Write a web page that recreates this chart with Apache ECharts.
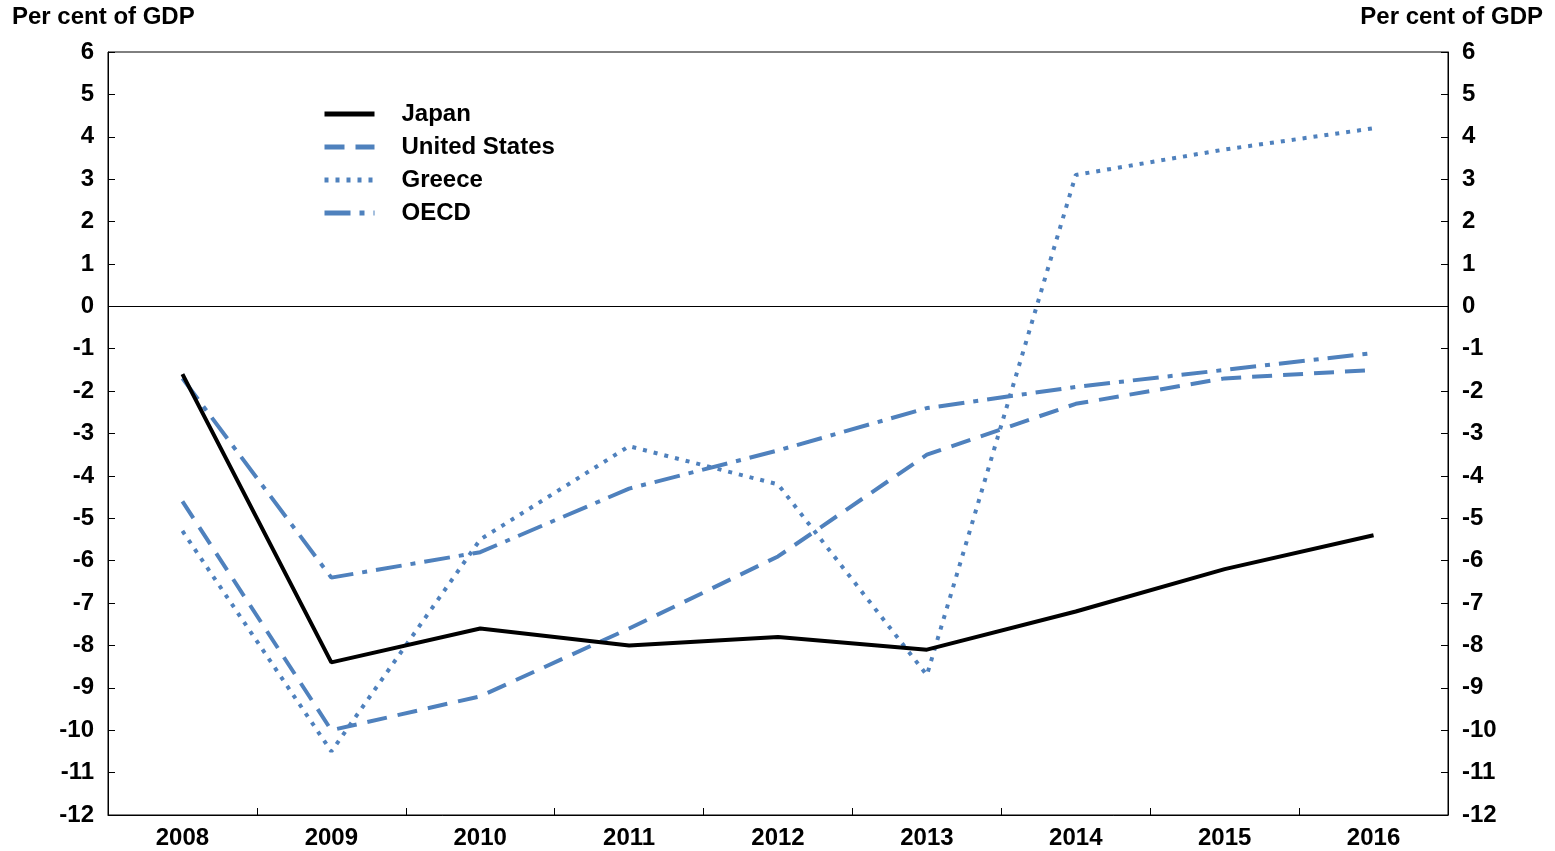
<!DOCTYPE html>
<html>
<head>
<meta charset="utf-8">
<script src="https://cdn.jsdelivr.net/npm/echarts@6/dist/echarts.min.js"></script>
<style>
html,body{margin:0;padding:0;background:#fff;}
#c{width:1555px;height:851px;}
</style>
</head>
<body>
<div id="c"></div>
<script>
const years = ['2008','2009','2010','2011','2012','2013','2014','2015','2016'];
const japan = [-1.6, -8.4, -7.6, -8.0, -7.8, -8.1, -7.2, -6.2, -5.4];
const unitedStates = [-4.6, -10.0, -9.2, -7.6, -5.9, -3.5, -2.3, -1.7, -1.5];
const greece = [-5.3, -10.5, -5.5, -3.3, -4.2, -8.7, 3.1, 3.7, 4.2];
const oecd = [-1.7, -6.4, -5.8, -4.3, -3.4, -2.4, -1.9, -1.5, -1.1];
const axisTitle = 'Per cent of GDP';

const FONT = 'Liberation Sans, Arial, sans-serif';
const FS = 24;
const BLUE = '#4f81bd';
const chart = echarts.init(document.getElementById('c'));

function yAx(pos) {
  return {
    type: 'value', position: pos, min: -12, max: 6, interval: 1,
    axisLine: {show: true, lineStyle: {color: '#000', width: 1}},
    axisTick: {show: true, inside: true, length: 7, lineStyle: {color: '#000'}},
    axisLabel: {color: '#000', fontSize: FS, fontWeight: 'bold', fontFamily: FONT, margin: 14},
    splitLine: {show: false}
  };
}

chart.setOption({
  animation: false,
  grid: {left: 108, right: 107, top: 52, bottom: 36, show: true, borderColor: '#000', borderWidth: 1, containLabel: false},
  legend: {
    left: 317, top: 97, orient: 'vertical', itemWidth: 50, itemHeight: 10, itemGap: 9,
    itemStyle: {opacity: 0},
    lineStyle: {width: 5},
    textStyle: {fontSize: FS, fontWeight: 'bold', fontFamily: FONT, color: '#000', lineHeight: 24, padding: [0, 0, 0, 22]},
    data: ['Japan', 'United States', 'Greece', 'OECD']
  },
  graphic: [
    {type: 'text', left: 12, top: 5, style: {text: axisTitle, fontSize: FS, fontWeight: 'bold', fontFamily: FONT, fill: '#000'}},
    {type: 'text', right: 12, top: 5, style: {text: axisTitle, fontSize: FS, fontWeight: 'bold', fontFamily: FONT, fill: '#000'}}
  ],
  xAxis: {
    type: 'category', data: years, boundaryGap: true,
    axisLine: {show: true, onZero: false, lineStyle: {color: '#000', width: 1}},
    axisTick: {show: true, inside: true, length: 7, interval: 0, lineStyle: {color: '#000'}},
    axisLabel: {color: '#000', fontSize: FS, fontWeight: 'bold', fontFamily: FONT, margin: 11, interval: 0}
  },
  yAxis: [yAx('left'), yAx('right')],
  series: [
    {name: 'Japan', type: 'line', data: japan, showSymbol: false, symbol: 'none', z: 5,
      lineStyle: {color: '#000', width: 4, type: 'solid'}, itemStyle: {color: '#000'},
      markLine: {silent: true, symbol: 'none', label: {show: false}, lineStyle: {color: '#000', width: 1, type: 'solid'}, data: [{yAxis: 0}]}},
    {name: 'United States', type: 'line', data: unitedStates, showSymbol: false, symbol: 'none',
      lineStyle: {color: BLUE, width: 4, type: [20, 11]}, itemStyle: {color: BLUE}},
    {name: 'Greece', type: 'line', data: greece, showSymbol: false, symbol: 'none',
      lineStyle: {color: BLUE, width: 4, type: [4, 7]}, itemStyle: {color: BLUE}},
    {name: 'OECD', type: 'line', data: oecd, showSymbol: false, symbol: 'none',
      lineStyle: {color: BLUE, width: 4, type: [26, 9, 5, 9]}, itemStyle: {color: BLUE}}
  ]
});
</script>
</body>
</html>
